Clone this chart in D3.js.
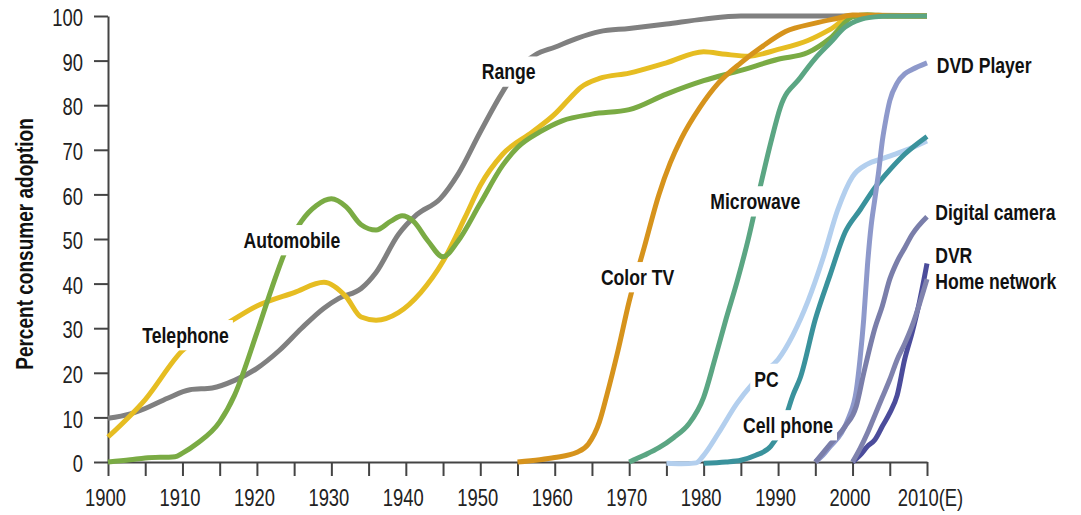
<!DOCTYPE html>
<html>
<head>
<meta charset="utf-8">
<script src="https://cdn.jsdelivr.net/npm/d3@7"></script>
<style>
  body { margin: 0; background: #fff; }
  svg { display: block; }
  .axis text { font-family: "Liberation Sans", Arial, sans-serif; font-size: 23px; fill: #222; }
  .axis line, .axis path { stroke: #444; stroke-width: 2px; }
  .lbl { font-family: "Liberation Sans", Arial, sans-serif; font-weight: bold; font-size: 22px; fill: #111; }
</style>
</head>
<body>
<div class="chart"></div>
<script>
// adoption curves, [year, percent]
const range = [[1900, 9.8], [1903, 10.8], [1905, 12], [1908, 14.3], [1911, 16.2], [1914, 16.6], [1917, 18.3],
  [1920, 21], [1923, 25], [1926, 30], [1929, 34.5], [1931, 36.7], [1934, 38.9], [1936, 42.5], [1939, 51],
  [1941.5, 55.5], [1944.6, 59], [1947, 64.5], [1950, 74], [1953, 83], [1955, 88], [1957.4, 91.3], [1960, 93],
  [1963, 95], [1966, 96.5], [1970, 97.2], [1975, 98.2], [1980, 99.3], [1985, 100], [2010, 100]];
const telephone = [[1900, 5.6], [1905, 14], [1910, 25], [1915, 30], [1920, 35], [1925, 38], [1929, 40.3],
  [1932, 37], [1934, 32.5], [1936, 31.8], [1939, 33.5], [1942, 38], [1945, 45], [1948, 55], [1950, 62],
  [1953, 69], [1957, 74], [1960, 78], [1962, 81.5], [1963.5, 84], [1966, 86], [1970, 87.2], [1975, 89.5], [1980, 92],
  [1983, 91.4], [1986, 91], [1990, 92.5], [1994, 94.5], [1997, 97], [2000, 100], [2005, 100], [2010, 100]];
const automobile = [[1900, 0], [1903, 0.5], [1905, 0.9], [1909, 1.2], [1910, 2], [1912, 4.2], [1915, 9],
  [1917, 15], [1920, 29], [1922, 39], [1924, 48], [1926, 54], [1928, 57.5], [1930, 59], [1932, 57.2],
  [1934, 53.2], [1936, 52], [1938, 54], [1939.5, 55.2], [1941, 54], [1943, 49.5], [1945, 46], [1947, 49.5],
  [1950, 58], [1953, 66.5], [1955, 70.5], [1958, 74], [1961, 76.5], [1965, 78], [1970, 79], [1975, 82.5],
  [1980, 85.5], [1985, 87.8], [1990, 90.3], [1994, 91.8], [1997, 95], [2000, 99.8], [2002, 100.3],
  [2005, 100], [2010, 100]];
const colorTv = [[1955, 0], [1958, 0.5], [1960, 1], [1963, 2.2], [1964.5, 4], [1966, 9], [1967, 15],
  [1968.5, 25], [1970, 36], [1972, 48], [1974, 60], [1975.5, 67], [1977, 72.5], [1979.5, 79.5], [1982, 85],
  [1985, 89.5], [1988, 93.3], [1991, 96.5], [1995, 98.4], [1998, 99.5], [2000, 100.2], [2010, 100]];
const microwave = [[1970, 0], [1972, 1.5], [1974, 3.2], [1976, 5.5], [1978, 8.5], [1980, 14.5], [1981.5, 23],
  [1983, 32], [1984.5, 40.5], [1986, 50], [1987.5, 61], [1989, 71.5], [1990.3, 79.5], [1993, 86.2],
  [1995, 90.5], [1997, 94], [1999, 97.5], [2001, 99.2], [2003, 99.8], [2005, 100], [2010, 100]];
const pc = [[1975, -0.3], [1977, -0.4], [1979, -0.2], [1980, 1.5], [1982, 6.5], [1984.5, 13.2], [1986.5, 17.4],
  [1988, 20], [1990, 23], [1992, 28.5], [1994, 36], [1996, 45.5], [1998, 56.5], [2000, 64], [2002, 66.8],
  [2004, 68], [2006, 69.2], [2008, 70.5], [2010, 72]];
const cellPhone = [[1980, -0.3], [1983, 0], [1985, 0.4], [1987, 1.5], [1989, 3.5], [1990.5, 7.5], [1992, 15],
  [1993, 19], [1995, 32], [1997, 42], [1999, 51.5], [2001, 56.5], [2003, 61.5], [2005, 65.5], [2007, 69],
  [2010, 73]];
const dvd = [[1995, 0], [1996, 1.5], [1997, 3.5], [1998.5, 6.5], [1999.5, 10], [2000.5, 16], [2001, 23],
  [2001.5, 32], [2002, 44], [2002.5, 53], [2003, 59], [2003.5, 65], [2004, 72], [2004.5, 77], [2005, 81],
  [2006, 85], [2007, 87], [2008, 88], [2010, 89.5]];
const digitalCamera = [[1995, 0], [1997, 4], [1999, 8], [2000.5, 12.5], [2001.5, 19.9], [2003, 30], [2004, 35],
  [2005, 41], [2006, 45], [2007, 48], [2008, 51], [2010, 55]];
const dvr = [[2000, 0], [2001, 1.5], [2002, 3.5], [2003, 5], [2004, 8], [2005, 11], [2006, 15], [2007, 23],
  [2008, 29], [2009, 36], [2010, 44.5]];
const homeNetwork = [[2000, 0], [2001, 3], [2002, 6.5], [2003, 10.5], [2004, 14.5], [2005, 18.5], [2006, 23],
  [2007, 26.5], [2008, 30.5], [2009, 35.5], [2010, 41]];

const yTicks = [0, 10, 20, 30, 40, 50, 60, 70, 80, 90, 100];
const xTicks = d3.range(1900, 2011, 5);
const xLabels = {1900: '1900', 1910: '1910', 1920: '1920', 1930: '1930', 1940: '1940', 1950: '1950',
  1960: '1960', 1970: '1970', 1980: '1980', 1990: '1990', 2000: '2000', 2010: '2010(E)'};

const series = [
  {name: 'Range', data: range, color: '#808080'},
  {name: 'Telephone', data: telephone, color: '#e6bd22'},
  {name: 'Automobile', data: automobile, color: '#7aab44'},
  {name: 'Color TV', data: colorTv, color: '#d6931c'},
  {name: 'Microwave', data: microwave, color: '#5ba683'},
  {name: 'PC', data: pc, color: '#b3cfee'},
  {name: 'Cell phone', data: cellPhone, color: '#3a929c'},
  {name: 'DVD Player', data: dvd, color: '#8e99cb'},
  {name: 'Digital camera', data: digitalCamera, color: '#7a7eaa'},
  {name: 'DVR', data: dvr, color: '#4b4c9b'},
  {name: 'Home network', data: homeNetwork, color: '#7f82ad'}
];

// where each label sits (year, percent at baseline)
const labelAt = [
  ['Telephone', 1904.6, 26.7], ['Automobile', 1918.2, 48], ['Range', 1950.2, 85.8],
  ['Color TV', 1966.2, 39.7], ['Microwave', 1980.9, 56.7], ['PC', 1986.8, 16.9],
  ['Cell phone', 1985.3, 6.5], ['DVD Player', 2011.3, 87.3], ['Digital camera', 2011.1, 54.3],
  ['DVR', 2011.1, 44.6], ['Home network', 2011.1, 38.8]
];

const width = 1081, height = 515;
const narrow = 'scale(0.8,1)';  // no condensed face installed, squeeze by hand

const x = d3.scaleLinear().domain([1900, 2010]).range([108, 927]);
const y = d3.scaleLinear().domain([0, 100]).range([462, 16]);

const svg = d3.select('.chart').append('svg')
    .attr('width', width)
    .attr('height', height);

const yAxis = d3.axisLeft(y)
    .tickValues(yTicks)
    .tickSize(14)
    .tickSizeOuter(0)
    .tickPadding(11);

const gy = svg.append('g')
    .attr('class', 'y axis')
    .attr('transform', 'translate(108,0)')
    .call(yAxis);
gy.selectAll('text')
    .attr('x', 0)
    .attr('dy', '0.38em')
    .attr('transform', 'translate(-25,1) ' + narrow);

const xAxis = d3.axisBottom(x)
    .tickValues(xTicks)
    .tickSize(14)
    .tickSizeOuter(0)
    .tickFormat(d => xLabels[d] || '');

const gx = svg.append('g')
    .attr('class', 'x axis')
    .attr('transform', 'translate(0,462)')
    .call(xAxis);
gx.selectAll('text')
    .attr('y', 0)
    .attr('dy', 0)
    .attr('transform', d => 'translate(' + (d === 2010 ? 3 : -3) + ',44) ' + narrow);

svg.append('text')
    .attr('class', 'lbl')
    .attr('transform', 'translate(33,244) rotate(-90) scale(0.81,1)')
    .attr('text-anchor', 'middle')
    .style('font-size', '23.5px')
    .text('Percent consumer adoption');

const line = d3.line()
    .x(d => x(d[0]))
    .y(d => y(d[1]))
    .curve(d3.curveMonotoneX);

svg.append('g').selectAll('path')
  .data(series)
  .enter()
    .append('path')
    .attr('d', d => line(d.data))
    .attr('fill', 'none')
    .attr('stroke', d => d.color)
    .attr('stroke-width', 5);

// labels knock out the lines behind them
const lbl = svg.append('g').selectAll('g')
  .data(labelAt)
  .enter()
    .append('g')
    .attr('transform', d => 'translate(' + x(d[1]) + ',' + y(d[2]) + ') ' + narrow);

lbl.append('text')
    .attr('class', 'lbl')
    .text(d => d[0]);

lbl.each(function() {
  const g = d3.select(this);
  const b = g.select('text').node().getBBox();
  g.insert('rect', 'text')
      .attr('x', b.x - 5)
      .attr('y', b.y - 3)
      .attr('width', b.width + 10)
      .attr('height', b.height + 6)
      .attr('fill', '#fff');
});
</script>
</body>
</html>
